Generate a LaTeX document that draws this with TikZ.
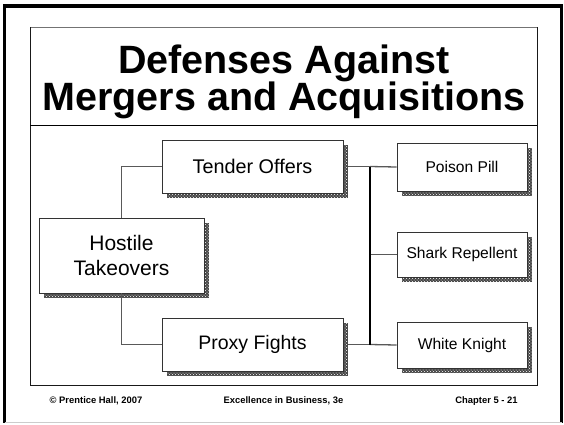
\documentclass[tikz,border=0pt]{standalone}
\usepackage{fontspec}
\setmainfont{Liberation Sans}
\usetikzlibrary{patterns,calc}

\tikzset{
  box/.style={draw=black!80, line width=0.9pt, fill=white, inner sep=0pt, align=center},
  shade/.style={fill=black!72, postaction={pattern=crosshatch dots, pattern color=white!80}},
  link/.style={draw=black!65, line width=1.3pt},
  bus/.style={draw=black, line width=1.5pt},
  titletext/.style={anchor=base, inner sep=0pt, font=\fontsize{39.5}{45}\selectfont\bfseries},
  foot/.style={font=\fontsize{9.4}{11}\selectfont\bfseries, anchor=base, inner sep=0pt}
}

% draws a box with its shadow: name, centre, width, height, font, text
\newcommand{\shadowbox}[6]{%
  \fill[shade] ($(#2)+(-#3/2+4.5,-#4/2+4.5)$) rectangle ($(#2)+(#3/2+4.5,#4/2+4.5)$);
  \node[box, minimum width=#3pt, minimum height=#4pt, font=#5] (#1) at (#2) {#6};
}

\begin{document}
\begin{tikzpicture}[x=1pt,y=-1pt]
  \useasboundingbox (0,0) rectangle (564,424);

  % slide frame
  \draw[line width=3.2pt, line cap=rect] (4.7,421) -- (4.7,6) -- (561.8,6) -- (561.8,421);
  \draw[black!20, line width=1.5pt] (4.7,422.5) -- (561.8,422.5);

  % content panel and title rule
  \draw[black!55, line width=1pt] (30,27) -- (537,27);
  \draw[black!90, line width=1pt] (537,27) -- (537,385) -- (30,385) -- (30,27);
  \draw[black, line width=1pt] (30,125) -- (537,125);

  % title
  \node[titletext] (title1) at (284,73) {Defenses Against};
  \node[titletext] (title2) at (284,110.5) {Mergers and Acquisitions};

  % boxes
  \shadowbox{tender}{252.5,166.5}{181}{53}{\fontsize{19.8}{23}\selectfont}{Tender Offers}
  \shadowbox{hostile}{121.5,255.5}{165}{75}{\fontsize{21}{25.5}\selectfont}{Hostile\\Takeovers}
  \shadowbox{proxy}{252.5,344.5}{181}{53}{\fontsize{19.5}{23}\selectfont}{Proxy Fights}
  \shadowbox{poison}{462,167}{130}{48}{\fontsize{15.6}{18}\selectfont}{Poison Pill}
  \shadowbox{shark}{462,254.5}{130}{45}{\fontsize{15.6}{18}\selectfont}{Shark Repellent}
  \shadowbox{knight}{462,345}{130}{46}{\fontsize{15.6}{18}\selectfont}{White Knight}

  % connectors
  \coordinate (bustop) at (370,166.5);
  \coordinate (busbot) at (370,344.5);
  \coordinate (busmid) at (370,254.5);
  \draw[link] (hostile.north) |- (tender.west);
  \draw[link] (hostile.south) |- (proxy.west);
  \draw[link] ([xshift=4.5pt]tender.east) -- (bustop);
  \draw[link] (bustop) -- (poison.west);
  \draw[link] ([xshift=4.5pt]proxy.east) -- (busbot);
  \draw[link] (busbot) -- (knight.west);
  \draw[link] (busmid) -- (shark.west);
  \draw[bus] (bustop) -- (busbot);

  % footer
  \node[foot] (f1) at (96,403.5) {\textcopyright\ Prentice Hall, 2007};
  \node[foot] (f2) at (283.5,403.5) {Excellence in Business, 3e};
  \node[foot] (f3) at (486.5,403.5) {Chapter 5 - 21};
\end{tikzpicture}
\end{document}
